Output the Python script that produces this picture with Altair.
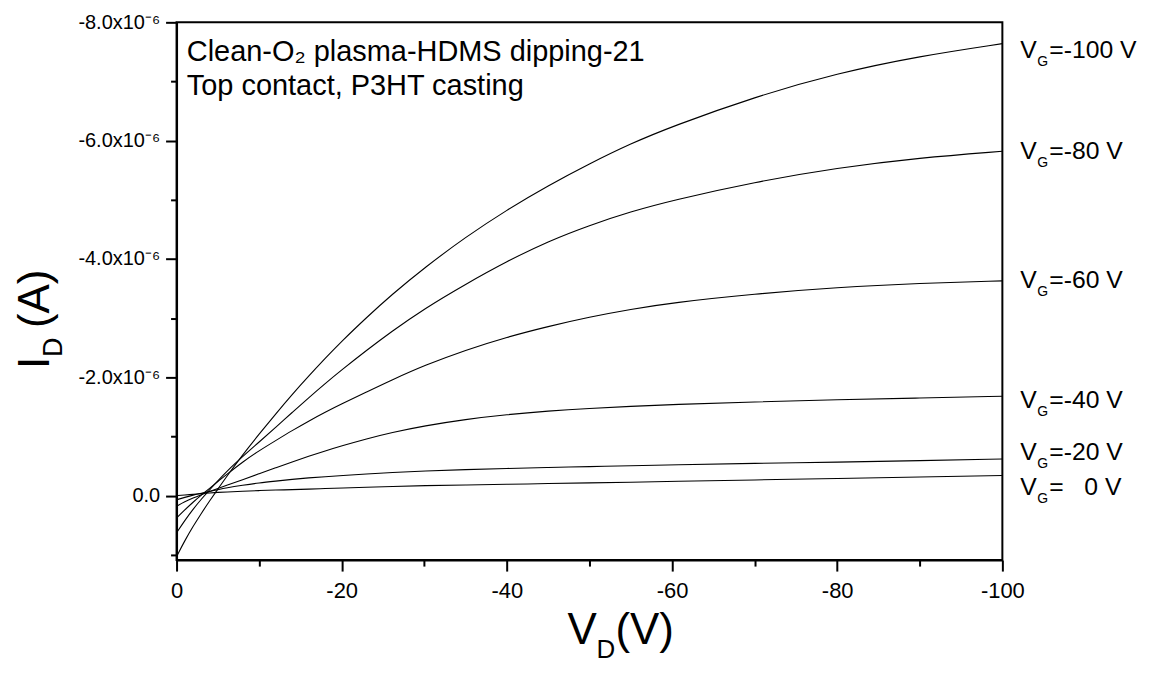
import altair as alt
import pandas as pd

# ---------------- data (I_D in units of 1e-6 A) ----------------
VD = [0, -1, -2, -3, -4, -5, -6, -8, -10, -12, -14, -16, -18, -20, -23, -26,
      -30, -35, -40, -45, -50, -55, -60, -70, -80, -90, -100]

ID_VG0 = [0.0, -0.01, -0.02, -0.035, -0.045, -0.055, -0.06, -0.075, -0.085, -0.095,
          -0.10, -0.11, -0.12, -0.13, -0.14, -0.155, -0.17, -0.18, -0.19, -0.205,
          -0.215, -0.225, -0.24, -0.265, -0.29, -0.315, -0.34]
ID_VG20 = [0.07, 0.03, -0.01, -0.04, -0.07, -0.10, -0.13, -0.175, -0.215, -0.245,
           -0.275, -0.30, -0.32, -0.34, -0.365, -0.39, -0.415, -0.44, -0.46, -0.475,
           -0.49, -0.505, -0.52, -0.545, -0.565, -0.59, -0.62]
ID_VG40 = [0.18, 0.10, 0.04, -0.015, -0.07, -0.12, -0.17, -0.27, -0.37, -0.47,
           -0.57, -0.665, -0.755, -0.84, -0.96, -1.065, -1.18, -1.29, -1.37, -1.43,
           -1.475, -1.51, -1.54, -1.585, -1.62, -1.65, -1.68]
ID_VG60 = [0.38, 0.24, 0.11, -0.01, -0.12, -0.24, -0.35, -0.57, -0.76, -0.93,
           -1.10, -1.26, -1.41, -1.55, -1.75, -1.95, -2.20, -2.46, -2.68, -2.86,
           -3.02, -3.15, -3.26, -3.41, -3.52, -3.59, -3.63]
ID_VG80 = [0.63, 0.42, 0.23, 0.06, -0.10, -0.25, -0.40, -0.66, -0.905, -1.155,
           -1.405, -1.655, -1.895, -2.125, -2.455, -2.77, -3.16, -3.575, -3.96, -4.30,
           -4.57, -4.80, -4.99, -5.30, -5.54, -5.71, -5.82]
ID_VG100 = [1.03, 0.76, 0.52, 0.30, 0.09, -0.11, -0.31, -0.69, -1.04, -1.38,
            -1.71, -2.02, -2.32, -2.61, -3.01, -3.39, -3.85, -4.37, -4.83, -5.24,
            -5.61, -5.95, -6.24, -6.74, -7.14, -7.43, -7.64]

SERIES = ["0", "-20", "-40", "-60", "-80", "-100"]
CURVES = [ID_VG0, ID_VG20, ID_VG40, ID_VG60, ID_VG80, ID_VG100]

# right-hand labels
LABEL_TEXT = ["=-100 V", "=-80 V", "=-60 V", "=-40 V", "=-20 V", "=\u00a0\u00a0\u00a00 V"]
LABEL_Y = [-7.404, -5.683, -3.505, -1.480, -0.596, -0.017]

X_TICKS = list(range(0, -101, -10))
Y_TICKS = [-8, -7, -6, -5, -4, -3, -2, -1, 0, 1]

ANNOT_1 = "Clean-O\u2082 plasma-HDMS dipping-21"
ANNOT_2 = "Top contact, P3HT casting"

# ---------------- tables ----------------
rows = []
for name, vals in zip(SERIES, CURVES):
    for v, i in zip(VD, vals):
        rows.append({"VG": name, "VD": v, "ID": i})
df = pd.DataFrame(rows)

lab = pd.DataFrame({"ly": LABEL_Y, "rest": LABEL_TEXT})
one = pd.DataFrame({"a": [0]})

FONT = "Liberation Sans, Arial, Helvetica, sans-serif"
W, H = 828, 539.2

xscale = alt.Scale(domain=[-100, 0], reverse=True, nice=False, zero=False)
yscale = alt.Scale(domain=[-8.0, 1.09], reverse=True, nice=False, zero=False)

x_axis = alt.Axis(
    values=X_TICKS, title=None, grid=False,
    labelExpr="datum.value % 20 == 0 ? (datum.value == 0 ? '0' : '-' + abs(datum.value)) : ''",
    tickSize={"condition": {"test": "datum.value % 20 == 0", "value": 11}, "value": 6},
    tickWidth=2, tickColor="black", domainColor="black", domainWidth=2,
    labelFont=FONT, labelFontSize=22, labelColor="black", labelPadding=9,
    labelFlush=False, labelOverlap=False,
)
y_axis = alt.Axis(
    values=Y_TICKS, title=None, grid=False,
    labelExpr="datum.value == 0 ? '0.0' : (datum.value % 2 == 0 ? '-' + format(abs(datum.value), '.1f') + 'x10\u207b\u2076' : '')",
    tickSize={"condition": {"test": "datum.value % 2 == 0", "value": 11}, "value": 6},
    tickWidth=2, tickColor="black", domainColor="black", domainWidth=2,
    labelFont=FONT, labelFontSize=20, labelColor="black", labelPadding=6,
    labelFlush=False, labelOverlap=False,
)

lines = alt.Chart(df).mark_line(color="black", strokeWidth=1.1, interpolate="basis").encode(
    x=alt.X("VD:Q", scale=xscale, axis=x_axis),
    y=alt.Y("ID:Q", scale=yscale, axis=y_axis),
    detail="VG:N",
    order=alt.Order("VD:Q", sort="descending"),
)

# right labels: V, subscript G, rest
lab_v = alt.Chart(lab).mark_text(text="V", align="left", baseline="alphabetic",
                                 font=FONT, fontSize=24.8, color="black").encode(
    x=alt.value(846), y=alt.Y("ly:Q", scale=yscale, axis=y_axis))
lab_g = alt.Chart(lab).mark_text(text="G", align="left", baseline="alphabetic", dy=8,
                                 font=FONT, fontSize=14, color="black").encode(
    x=alt.value(863), y=alt.Y("ly:Q", scale=yscale, axis=y_axis))
lab_r = alt.Chart(lab).mark_text(align="left", baseline="alphabetic",
                                 font=FONT, fontSize=24.8, color="black").encode(
    x=alt.value(875), y=alt.Y("ly:Q", scale=yscale, axis=y_axis), text="rest:N")

def txt(s, x, y, size, angle=0):
    kw = dict(text=s, align="left", baseline="alphabetic", font=FONT, fontSize=size, color="black")
    if angle:
        kw["angle"] = angle
    return alt.Chart(one).mark_text(**kw).encode(x=alt.value(x), y=alt.value(y))

annot1 = txt(ANNOT_1, 10.3, 38.5, 29)
annot2 = txt(ANNOT_2, 10.3, 72.5, 29)

# x title V_D (V)
xt_v = txt("V", 392, 623.5, 44)
xt_d = txt("D", 421, 637.5, 26)
xt_p = txt("(V)", 440, 623.5, 44)
# y title I_D (A) rotated
yt_i = txt("I", -128, 347.5, 44, 270)
yt_d = txt("D", -115, 335.5, 27, 270)
yt_p = txt("(A)", -128, 306.5, 44, 270)

chart = alt.layer(
    lines, lab_v, lab_g, lab_r, annot1, annot2, xt_v, xt_d, xt_p, yt_i, yt_d, yt_p
).properties(
    width=W, height=H,
    padding={"left": 169, "top": 13.5, "right": 140, "bottom": 104},
    autosize=alt.AutoSizeParams(type="none"),
    background="white",
).configure_view(stroke="black", strokeWidth=2)

chart.save("out.html", embed_options={"renderer": "svg", "actions": False})
